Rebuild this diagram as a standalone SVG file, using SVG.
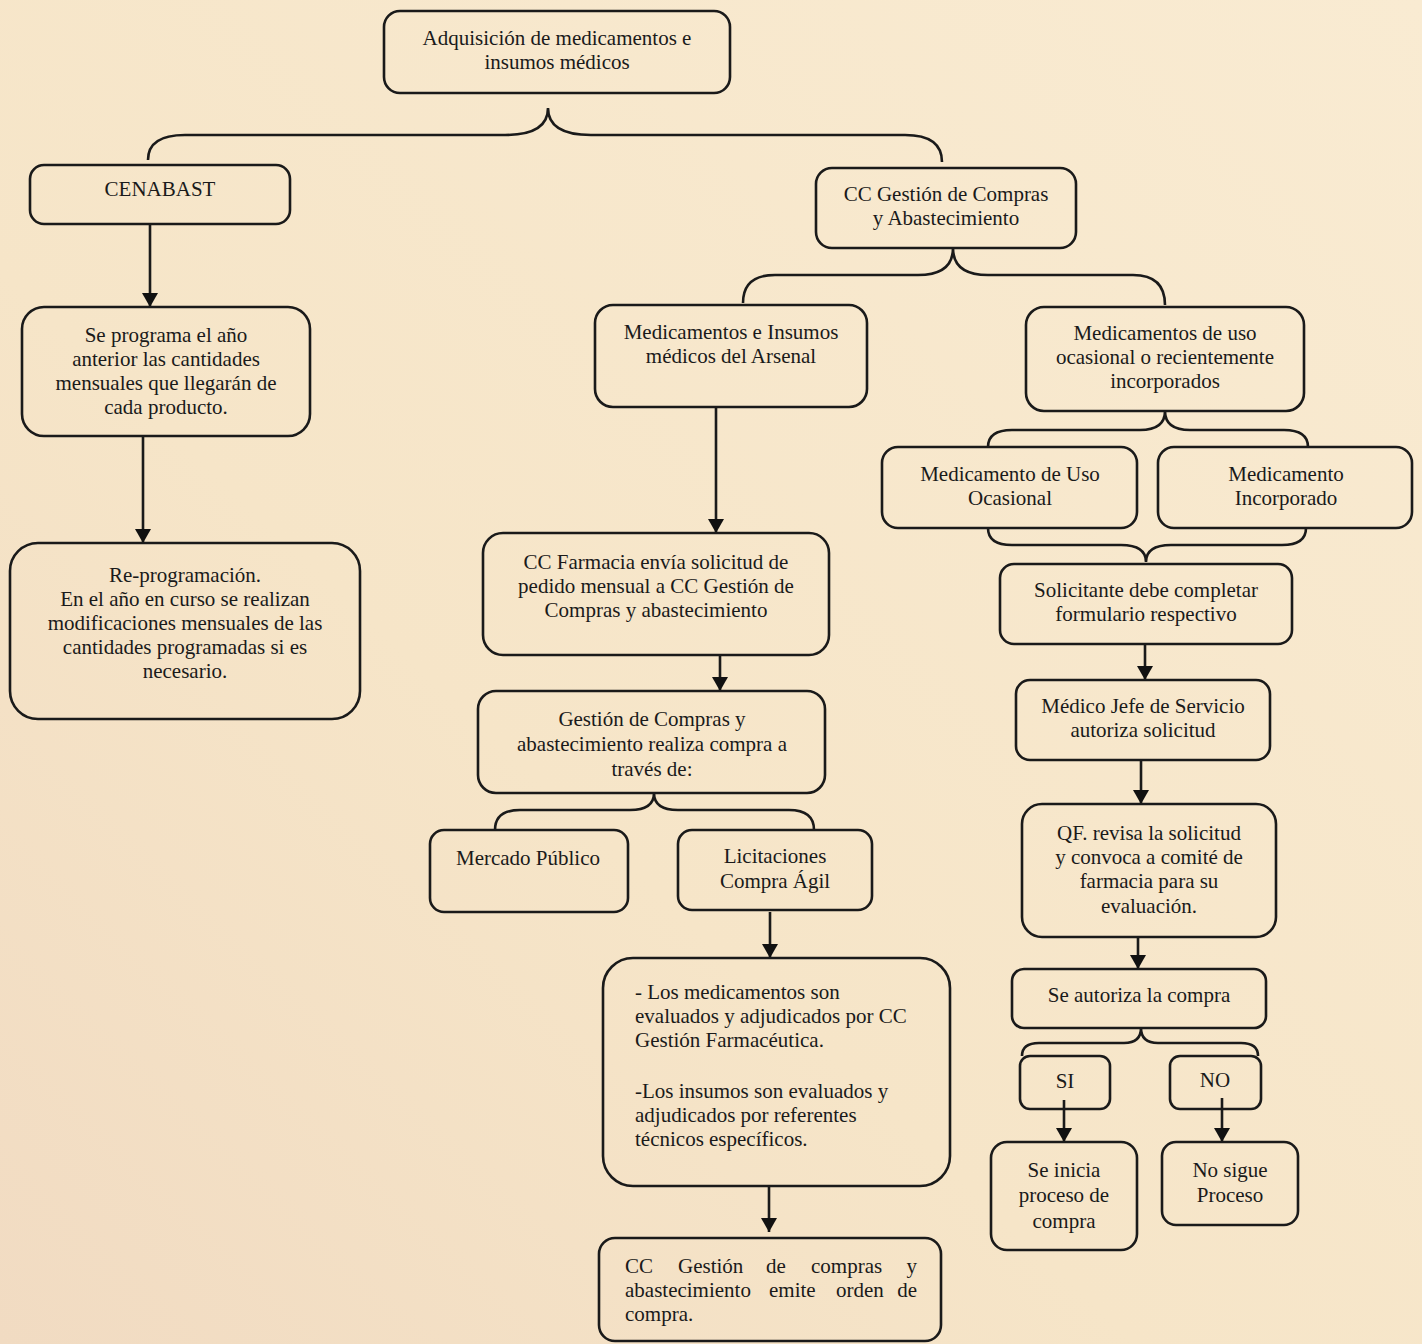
<svg xmlns="http://www.w3.org/2000/svg" width="1422" height="1344" viewBox="0 0 1422 1344">
<defs>
<linearGradient id="bg" x1="1" y1="0" x2="0" y2="1">
<stop offset="0" stop-color="#f9ebd2"/>
<stop offset="0.6" stop-color="#f6e5c8"/>
<stop offset="1" stop-color="#f1dbc2"/>
</linearGradient>
<marker id="ah" viewBox="0 0 14 16" refX="14" refY="8" markerWidth="14" markerHeight="16" markerUnits="userSpaceOnUse" orient="auto">
<path d="M0,0 L14,8 L0,16 Z" fill="#111"/>
</marker>
<style>
.box{fill:none;stroke:#1a1a1a;stroke-width:2.6}
.t{font-family:"Liberation Serif","Times New Roman",serif;font-size:21px;fill:#1a1a1a;text-anchor:middle}
.l{font-family:"Liberation Serif","Times New Roman",serif;font-size:21px;fill:#1a1a1a}
.c{fill:none;stroke:#1a1a1a;stroke-width:2.6}
</style>
</defs>
<rect width="1422" height="1344" fill="url(#bg)"/>

<g id="connectors">
<path class="c" d="M148,160 Q148,135 185,135 L505,135 Q548,135 548,108 Q548,135 591,135 L905,135 Q942,135 942,162"/>
<path class="c" d="M743,303 Q743,275 775,275 L918,275 Q953,275 953,248 Q953,275 988,275 L1133,275 Q1165,275 1165,305"/>
<path class="c" d="M988,447 Q988,430 1012,430 L1140,430 Q1165,430 1165,411 Q1165,430 1190,430 L1284,430 Q1308,430 1308,447"/>
<path class="c" d="M988,528 Q988,545 1012,545 L1121,545 Q1146,545 1146,562 Q1146,545 1171,545 L1282,545 Q1306,545 1306,528"/>
<path class="c" d="M495,830 Q495,810 520,810 L630,810 Q654,810 654,793 Q654,810 678,810 L789,810 Q814,810 814,830"/>
<path class="c" d="M1022,1056 Q1022,1043 1039,1043 L1124,1043 Q1141,1043 1141,1028 Q1141,1043 1158,1043 L1241,1043 Q1258,1043 1258,1056"/>
<line class="c" x1="150" y1="224" x2="150" y2="307" marker-end="url(#ah)"/>
<line class="c" x1="143" y1="436" x2="143" y2="543" marker-end="url(#ah)"/>
<line class="c" x1="716" y1="407" x2="716" y2="533" marker-end="url(#ah)"/>
<line class="c" x1="720" y1="655" x2="720" y2="691" marker-end="url(#ah)"/>
<line class="c" x1="770" y1="912" x2="770" y2="958" marker-end="url(#ah)"/>
<line class="c" x1="769" y1="1186" x2="769" y2="1232" marker-end="url(#ah)"/>
<line class="c" x1="1145" y1="644" x2="1145" y2="680" marker-end="url(#ah)"/>
<line class="c" x1="1141" y1="760" x2="1141" y2="804" marker-end="url(#ah)"/>
<line class="c" x1="1138" y1="937" x2="1138" y2="969" marker-end="url(#ah)"/>
<line class="c" x1="1064" y1="1100" x2="1064" y2="1142" marker-end="url(#ah)"/>
<line class="c" x1="1222" y1="1098" x2="1222" y2="1142" marker-end="url(#ah)"/>
</g>

<g id="n1"><rect class="box" x="384" y="11" width="346" height="82" rx="16"/>
<text class="t" x="557" y="45">Adquisición de medicamentos e</text><text class="t" x="557" y="69">insumos médicos</text></g>

<g id="n2"><rect class="box" x="30" y="165" width="260" height="59" rx="14"/>
<text class="t" x="160" y="196">CENABAST</text></g>

<g id="n3"><rect class="box" x="816" y="168" width="260" height="80" rx="16"/>
<text class="t" x="946" y="201">CC Gestión de Compras</text><text class="t" x="946" y="225">y Abastecimiento</text></g>

<g id="n4"><rect class="box" x="22" y="307" width="288" height="129" rx="22"/>
<text class="t" x="166" y="342">Se programa el año</text><text class="t" x="166" y="366">anterior las cantidades</text><text class="t" x="166" y="390">mensuales que llegarán de</text><text class="t" x="166" y="414">cada producto.</text></g>

<g id="n5"><rect class="box" x="10" y="543" width="350" height="176" rx="28"/>
<text class="t" x="185" y="582">Re-programación.</text><text class="t" x="185" y="606">En el año en curso se realizan</text><text class="t" x="185" y="630">modificaciones mensuales de las</text><text class="t" x="185" y="654">cantidades programadas si es</text><text class="t" x="185" y="678">necesario.</text></g>

<g id="n6"><rect class="box" x="595" y="305" width="272" height="102" rx="18"/>
<text class="t" x="731" y="339">Medicamentos e Insumos</text><text class="t" x="731" y="363">médicos del Arsenal</text></g>

<g id="n7"><rect class="box" x="1026" y="307" width="278" height="104" rx="18"/>
<text class="t" x="1165" y="340">Medicamentos de uso</text><text class="t" x="1165" y="364">ocasional o recientemente</text><text class="t" x="1165" y="388">incorporados</text></g>

<g id="n8"><rect class="box" x="882" y="447" width="255" height="81" rx="16"/>
<text class="t" x="1010" y="481">Medicamento de Uso</text><text class="t" x="1010" y="505">Ocasional</text></g>

<g id="n9"><rect class="box" x="1158" y="447" width="254" height="81" rx="16"/>
<text class="t" x="1286" y="481">Medicamento</text><text class="t" x="1286" y="505">Incorporado</text></g>

<g id="n10"><rect class="box" x="1000" y="564" width="292" height="80" rx="14"/>
<text class="t" x="1146" y="597">Solicitante debe completar</text><text class="t" x="1146" y="621">formulario respectivo</text></g>

<g id="n11"><rect class="box" x="1016" y="680" width="254" height="80" rx="14"/>
<text class="t" x="1143" y="713">Médico Jefe de Servicio</text><text class="t" x="1143" y="737">autoriza solicitud</text></g>

<g id="n12"><rect class="box" x="1022" y="804" width="254" height="133" rx="20"/>
<text class="t" x="1149" y="840">QF. revisa la solicitud</text><text class="t" x="1149" y="864">y convoca a comité de</text><text class="t" x="1149" y="888">farmacia para su</text><text class="t" x="1149" y="913">evaluación.</text></g>

<g id="n13"><rect class="box" x="1012" y="969" width="254" height="59" rx="12"/>
<text class="t" x="1139" y="1002">Se autoriza la compra</text></g>

<g id="n14"><rect class="box" x="1020" y="1056" width="90" height="53" rx="10"/>
<text class="t" x="1065" y="1088">SI</text></g>

<g id="n15"><rect class="box" x="1170" y="1056" width="91" height="53" rx="10"/>
<text class="t" x="1215" y="1087">NO</text></g>

<g id="n16"><rect class="box" x="991" y="1142" width="146" height="108" rx="16"/>
<text class="t" x="1064" y="1177">Se inicia</text><text class="t" x="1064" y="1202">proceso de</text><text class="t" x="1064" y="1228">compra</text></g>

<g id="n17"><rect class="box" x="1162" y="1142" width="136" height="83" rx="14"/>
<text class="t" x="1230" y="1177">No sigue</text><text class="t" x="1230" y="1202">Proceso</text></g>

<g id="n18"><rect class="box" x="483" y="533" width="346" height="122" rx="20"/>
<text class="t" x="656" y="569">CC Farmacia envía solicitud de</text><text class="t" x="656" y="593">pedido mensual a CC Gestión de</text><text class="t" x="656" y="617">Compras y abastecimiento</text></g>

<g id="n19"><rect class="box" x="478" y="691" width="347" height="102" rx="18"/>
<text class="t" x="652" y="726">Gestión de Compras y</text><text class="t" x="652" y="751">abastecimiento realiza compra a</text><text class="t" x="652" y="776">través de:</text></g>

<g id="n20"><rect class="box" x="430" y="830" width="198" height="82" rx="14"/>
<text class="t" x="528" y="865">Mercado Público</text></g>

<g id="n21"><rect class="box" x="678" y="830" width="194" height="80" rx="14"/>
<text class="t" x="775" y="863">Licitaciones</text><text class="t" x="775" y="888">Compra Ágil</text></g>

<g id="n22"><rect class="box" x="603" y="958" width="347" height="228" rx="30"/>
<text class="l" x="635" y="999">- Los medicamentos son</text><text class="l" x="635" y="1023">evaluados y adjudicados por CC</text><text class="l" x="635" y="1047">Gestión Farmacéutica.</text>
<text class="l" x="635" y="1098">-Los insumos son evaluados y</text><text class="l" x="635" y="1122">adjudicados por referentes</text><text class="l" x="635" y="1146">técnicos específicos.</text></g>

<g id="n23"><rect class="box" x="599" y="1238" width="342" height="103" rx="16"/>
<text class="l" x="625" y="1273">CC</text><text class="l" x="678" y="1273">Gestión</text><text class="l" x="766" y="1273">de</text><text class="l" x="811" y="1273">compras</text><text class="l" x="917" y="1273" text-anchor="end">y</text>
<text class="l" x="625" y="1297">abastecimiento</text><text class="l" x="769" y="1297">emite</text><text class="l" x="836" y="1297">orden</text><text class="l" x="917" y="1297" text-anchor="end">de</text>
<text class="l" x="625" y="1321">compra.</text></g>
</svg>
